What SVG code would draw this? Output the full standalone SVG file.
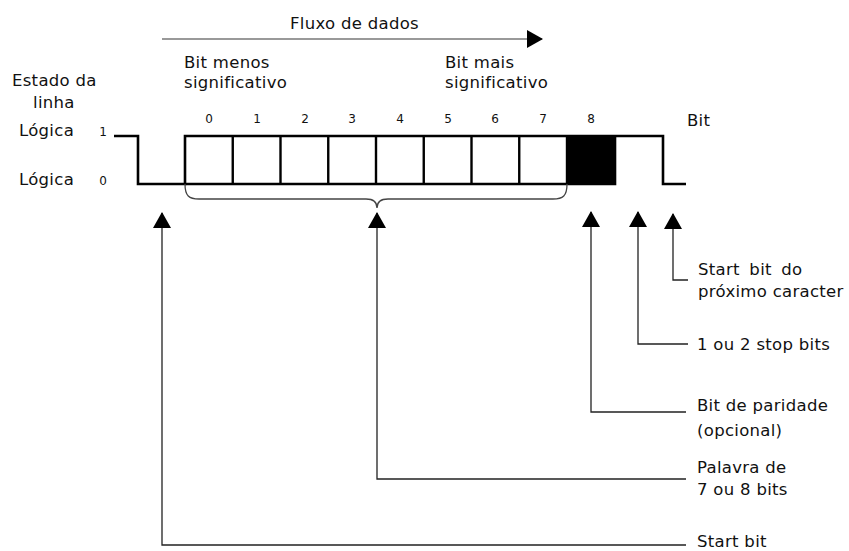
<svg xmlns="http://www.w3.org/2000/svg" width="849" height="551" viewBox="0 0 849 551">
<defs>
<style>
text{font-family:"DejaVu Sans","Liberation Sans",sans-serif;fill:#111;}
.lbl{font-size:16.5px;letter-spacing:0.3px;}
.dig{font-size:12px;text-anchor:middle;}
.wave{fill:none;stroke:#000;stroke-width:2.6;stroke-linejoin:miter;}
.div{stroke:#000;stroke-width:2.4;}
.conn{fill:none;stroke:#222;stroke-width:1.3;}
.brace{fill:none;stroke:#444;stroke-width:1.3;}
.flow{stroke:#777;stroke-width:1.6;}
</style>
<marker id="tri" viewBox="0 0 16 18" refX="15" refY="9" markerWidth="16" markerHeight="18" markerUnits="userSpaceOnUse" orient="auto">
<path d="M0,0 L16,9 L0,18 Z" fill="#000"/>
</marker>
</defs>
<rect width="849" height="551" fill="#fff"/>

<g id="flow">
<line class="flow" x1="162" y1="39" x2="542" y2="39" marker-end="url(#tri)"/>
<text class="lbl" x="290" y="29">Fluxo de dados</text>
</g>

<g id="lsb-label">
<text class="lbl" x="184" y="68">Bit menos</text>
<text class="lbl" x="184" y="88">significativo</text>
</g>
<g id="msb-label">
<text class="lbl" x="445" y="68">Bit mais</text>
<text class="lbl" x="445" y="88">significativo</text>
</g>

<g id="axis-labels">
<text class="lbl" x="12" y="86">Estado da</text>
<text class="lbl" x="33" y="108">linha</text>
<text class="lbl" x="19" y="136">Lógica</text>
<text class="dig" x="103" y="136">1</text>
<text class="lbl" x="19" y="185">Lógica</text>
<text class="dig" x="103" y="185">0</text>
<text class="lbl" x="687" y="126">Bit</text>
</g>

<g id="bit-numbers">
<text class="dig" x="209" y="123">0</text>
<text class="dig" x="257" y="123">1</text>
<text class="dig" x="305" y="123">2</text>
<text class="dig" x="352" y="123">3</text>
<text class="dig" x="400" y="123">4</text>
<text class="dig" x="448" y="123">5</text>
<text class="dig" x="495" y="123">6</text>
<text class="dig" x="543" y="123">7</text>
<text class="dig" x="591" y="123">8</text>
</g>

<g id="waveform">
<rect x="567" y="136" width="48" height="48" fill="#000"/>
<path class="wave" d="M114,136 H138 V184 H185 V136 H663 V184 H686"/>
<path class="wave" d="M185,184 H615 V136"/>
<line class="div" x1="232.75" y1="136" x2="232.75" y2="184"/>
<line class="div" x1="280.5" y1="136" x2="280.5" y2="184"/>
<line class="div" x1="328.25" y1="136" x2="328.25" y2="184"/>
<line class="div" x1="376" y1="136" x2="376" y2="184"/>
<line class="div" x1="423.75" y1="136" x2="423.75" y2="184"/>
<line class="div" x1="471.5" y1="136" x2="471.5" y2="184"/>
<line class="div" x1="519.25" y1="136" x2="519.25" y2="184"/>
<line class="div" x1="567" y1="136" x2="567" y2="184"/>
</g>

<g id="brace">
<path class="brace" d="M185,184 C185,196 189,199 199,199 H366 C373,199 377,202 377,208 C377,202 381,199 388,199 H553 C563,199 567,196 567,184"/>
</g>

<g id="connectors">
<path class="conn" d="M686,545 H162 V213" marker-end="url(#tri)"/>
<path class="conn" d="M686,479 H377 V213" marker-end="url(#tri)"/>
<path class="conn" d="M686,412 H591 V212" marker-end="url(#tri)"/>
<path class="conn" d="M688,344 H638 V212" marker-end="url(#tri)"/>
<path class="conn" d="M688,280 H673 V214" marker-end="url(#tri)"/>
</g>

<g id="note-next-start">
<text class="lbl" x="698" y="275" word-spacing="4">Start bit do</text>
<text class="lbl" x="698" y="297">próximo caracter</text>
</g>
<g id="note-stop">
<text class="lbl" x="697" y="350">1 ou 2 stop bits</text>
</g>
<g id="note-parity">
<text class="lbl" x="697" y="411">Bit de paridade</text>
<text class="lbl" x="697" y="436">(opcional)</text>
</g>
<g id="note-word">
<text class="lbl" x="697" y="473">Palavra de</text>
<text class="lbl" x="697" y="495">7 ou 8 bits</text>
</g>
<g id="note-start">
<text class="lbl" x="697" y="547">Start bit</text>
</g>
</svg>
